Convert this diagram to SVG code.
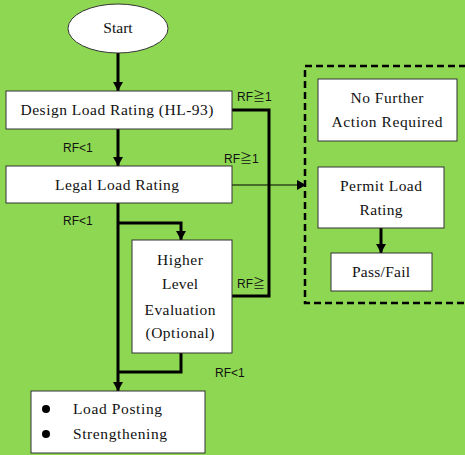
<svg xmlns="http://www.w3.org/2000/svg" width="465" height="455" viewBox="0 0 465 455">
<style>
.box{fill:#fff;stroke:#333;stroke-width:1}
.t{font-family:"Liberation Serif","Times New Roman",serif;font-size:15.5px;fill:#111;text-anchor:middle}
.tl{font-family:"Liberation Serif","Times New Roman",serif;font-size:15.5px;fill:#111}
.rf{font-family:"Liberation Sans","Noto Sans CJK JP",sans-serif;font-size:12px;fill:#111}
.thick{fill:none;stroke:#000;stroke-width:3}
.thin{fill:none;stroke:#000;stroke-width:1}
</style>
<defs>
<marker id="ah" markerUnits="userSpaceOnUse" markerWidth="12" markerHeight="12" refX="9" refY="5" orient="auto">
<path d="M0,0 L9,5 L0,10 Z" fill="#000"/>
</marker>
</defs>
<rect x="0" y="0" width="465" height="455" fill="#8ED752"/>
<g id="connectors">
<path class="thick" d="M118,53 V91" marker-end="url(#ah)"/>
<path class="thick" d="M118,129 V166" marker-end="url(#ah)"/>
<path class="thick" d="M118,203 V391" marker-end="url(#ah)"/>
<path class="thick" d="M118,223 H181 V240" marker-end="url(#ah)"/>
<path class="thick" d="M181,353 V372 H118"/>
<path class="thick" d="M232,110 H269 V296 H232"/>
<path class="thin" d="M232,185 H306" marker-end="url(#ah)"/>
<path class="thick" d="M381,228 V253" marker-end="url(#ah)"/>
<text class="rf" x="237" y="101">RF≧1</text>
<text class="rf" x="63" y="152">RF&lt;1</text>
<text class="rf" x="224" y="163">RF≧1</text>
<text class="rf" x="63" y="225">RF&lt;1</text>
<text class="rf" x="237" y="288">RF≧</text>
<text class="rf" x="215" y="377">RF&lt;1</text>
</g>
<g id="start">
<ellipse cx="118" cy="28.5" rx="50" ry="24.5" fill="#fff" stroke="#333" stroke-width="1"/>
<text class="t" x="118" y="33">Start</text>
</g>
<g id="design">
<rect class="box" x="6" y="91" width="226" height="38"/>
<text class="t" x="117" y="115" textLength="193" lengthAdjust="spacing">Design Load Rating (HL-93)</text>
</g>
<g id="legal">
<rect class="box" x="6" y="166" width="226" height="37"/>
<text class="t" x="117" y="190" textLength="124" lengthAdjust="spacing">Legal Load Rating</text>
</g>
<g id="higher">
<rect class="box" x="132" y="240" width="100" height="113"/>
<text class="t" x="180" y="265" textLength="46" lengthAdjust="spacing">Higher</text>
<text class="t" x="180" y="289" textLength="36" lengthAdjust="spacing">Level</text>
<text class="t" x="180" y="315" textLength="71" lengthAdjust="spacing">Evaluation</text>
<text class="t" x="180" y="338" textLength="69" lengthAdjust="spacing">(Optional)</text>
</g>
<g id="posting">
<rect class="box" x="31" y="391" width="174" height="62"/>
<circle cx="46" cy="409" r="4" fill="#000"/>
<circle cx="46" cy="434" r="4" fill="#000"/>
<text class="tl" x="73" y="414" textLength="89" lengthAdjust="spacing">Load Posting</text>
<text class="tl" x="73" y="439" textLength="94" lengthAdjust="spacing">Strengthening</text>
</g>
<g id="group-box">
<rect x="305" y="66" width="170" height="237" fill="none" stroke="#000" stroke-width="2.5" stroke-dasharray="7,4"/>
</g>
<g id="nofurther">
<rect class="box" x="318" y="79" width="139" height="62"/>
<text class="t" x="387" y="103" textLength="73" lengthAdjust="spacing">No Further</text>
<text class="t" x="387" y="127" textLength="111" lengthAdjust="spacing">Action Required</text>
</g>
<g id="permit">
<rect class="box" x="318" y="167" width="126" height="61"/>
<text class="t" x="381" y="191" textLength="82" lengthAdjust="spacing">Permit Load</text>
<text class="t" x="381" y="215" textLength="43" lengthAdjust="spacing">Rating</text>
</g>
<g id="passfail">
<rect class="box" x="331" y="253" width="101" height="38"/>
<text class="t" x="381" y="277" textLength="58" lengthAdjust="spacing">Pass/Fail</text>
</g>
</svg>
